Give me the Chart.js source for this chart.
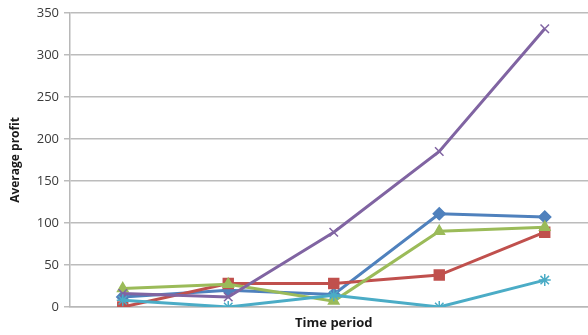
<!DOCTYPE html>
<html>
<head>
<meta charset="utf-8">
<script src="https://cdn.jsdelivr.net/npm/chart.js@4.4.0/dist/chart.umd.min.js"></script>
<style>
  html, body { margin: 0; padding: 0; background: #fff; overflow: hidden; }
  #wrap { width: 606px; height: 335px; }
</style>
</head>
<body>
<div id="wrap"><canvas id="chart" width="606" height="335"></canvas></div>
<script>
const periods = ["1", "2", "3", "4", "5"];
const yTicks = [0, 50, 100, 150, 200, 250, 300, 350];

const blueValues = [12, 20, 15, 111, 107];
const redValues = [0, 28, 28, 38, 89];
const greenValues = [22, 27, 7, 90, 95];
const purpleValues = [16, 12, 89, 185, 331];
const cyanValues = [8, 0, 14, 0, 32];

function makeSeries(label, data, color, style, radius) {
  return {
    label: label,
    data: data,
    borderColor: color,
    backgroundColor: color,
    pointBackgroundColor: color,
    pointBorderColor: color,
    pointStyle: style,
    pointRadius: radius,
    pointBorderWidth: 1.5,
    borderWidth: 3,
    tension: 0,
  };
}

Chart.defaults.font.family = "Open Sans";
Chart.defaults.color = "#404040";

const datasets = [
  makeSeries("Series 5", cyanValues, "#4bacc6", "star", 6),
  makeSeries("Series 4", purpleValues, "#8064a2", "crossRot", 6),
  makeSeries("Series 3", greenValues, "#9bbb59", "triangle", 6),
  makeSeries("Series 2", redValues, "#c0504d", "rect", 7),
  makeSeries("Series 1", blueValues, "#4f81bd", "rectRot", 6),
];

new Chart(document.getElementById("chart"), {
  type: "line",
  data: { labels: periods, datasets: datasets },
  options: {
    responsive: false,
    animation: false,
    layout: { padding: { top: 11, left: 0, right: 0, bottom: 0 } },
    plugins: {
      legend: { display: false },
      tooltip: { enabled: false },
    },
    scales: {
      x: {
        offset: true,
        grid: { display: false },
        border: { display: true, color: "#b8b8b8", width: 1.5 },
        ticks: { display: false },
        title: {
          display: true,
          text: "Time period",
          color: "#1a1a1a",
          font: { size: 13, weight: "bold" },
          padding: { top: 0, bottom: 4 },
        },
        afterFit: (scale) => {
          scale.height = 28;
        },
      },
      y: {
        min: 0,
        max: 350,
        afterBuildTicks: (scale) => {
          scale.ticks = yTicks.map((v) => ({ value: v }));
        },
        grid: { color: "#bcbcbc", lineWidth: 1.5, tickLength: 6 },
        border: { color: "#b8b8b8", width: 1.5 },
        ticks: { font: { size: 13 }, color: "#3a3a3a", padding: 5 },
        title: {
          display: true,
          text: "Average profit",
          color: "#1a1a1a",
          font: { size: 12, weight: "bold" },
          padding: { top: 8, bottom: 0 },
        },
        afterFit: (scale) => {
          scale.width = 70;
        },
      },
    },
  },
});
</script>
</body>
</html>
